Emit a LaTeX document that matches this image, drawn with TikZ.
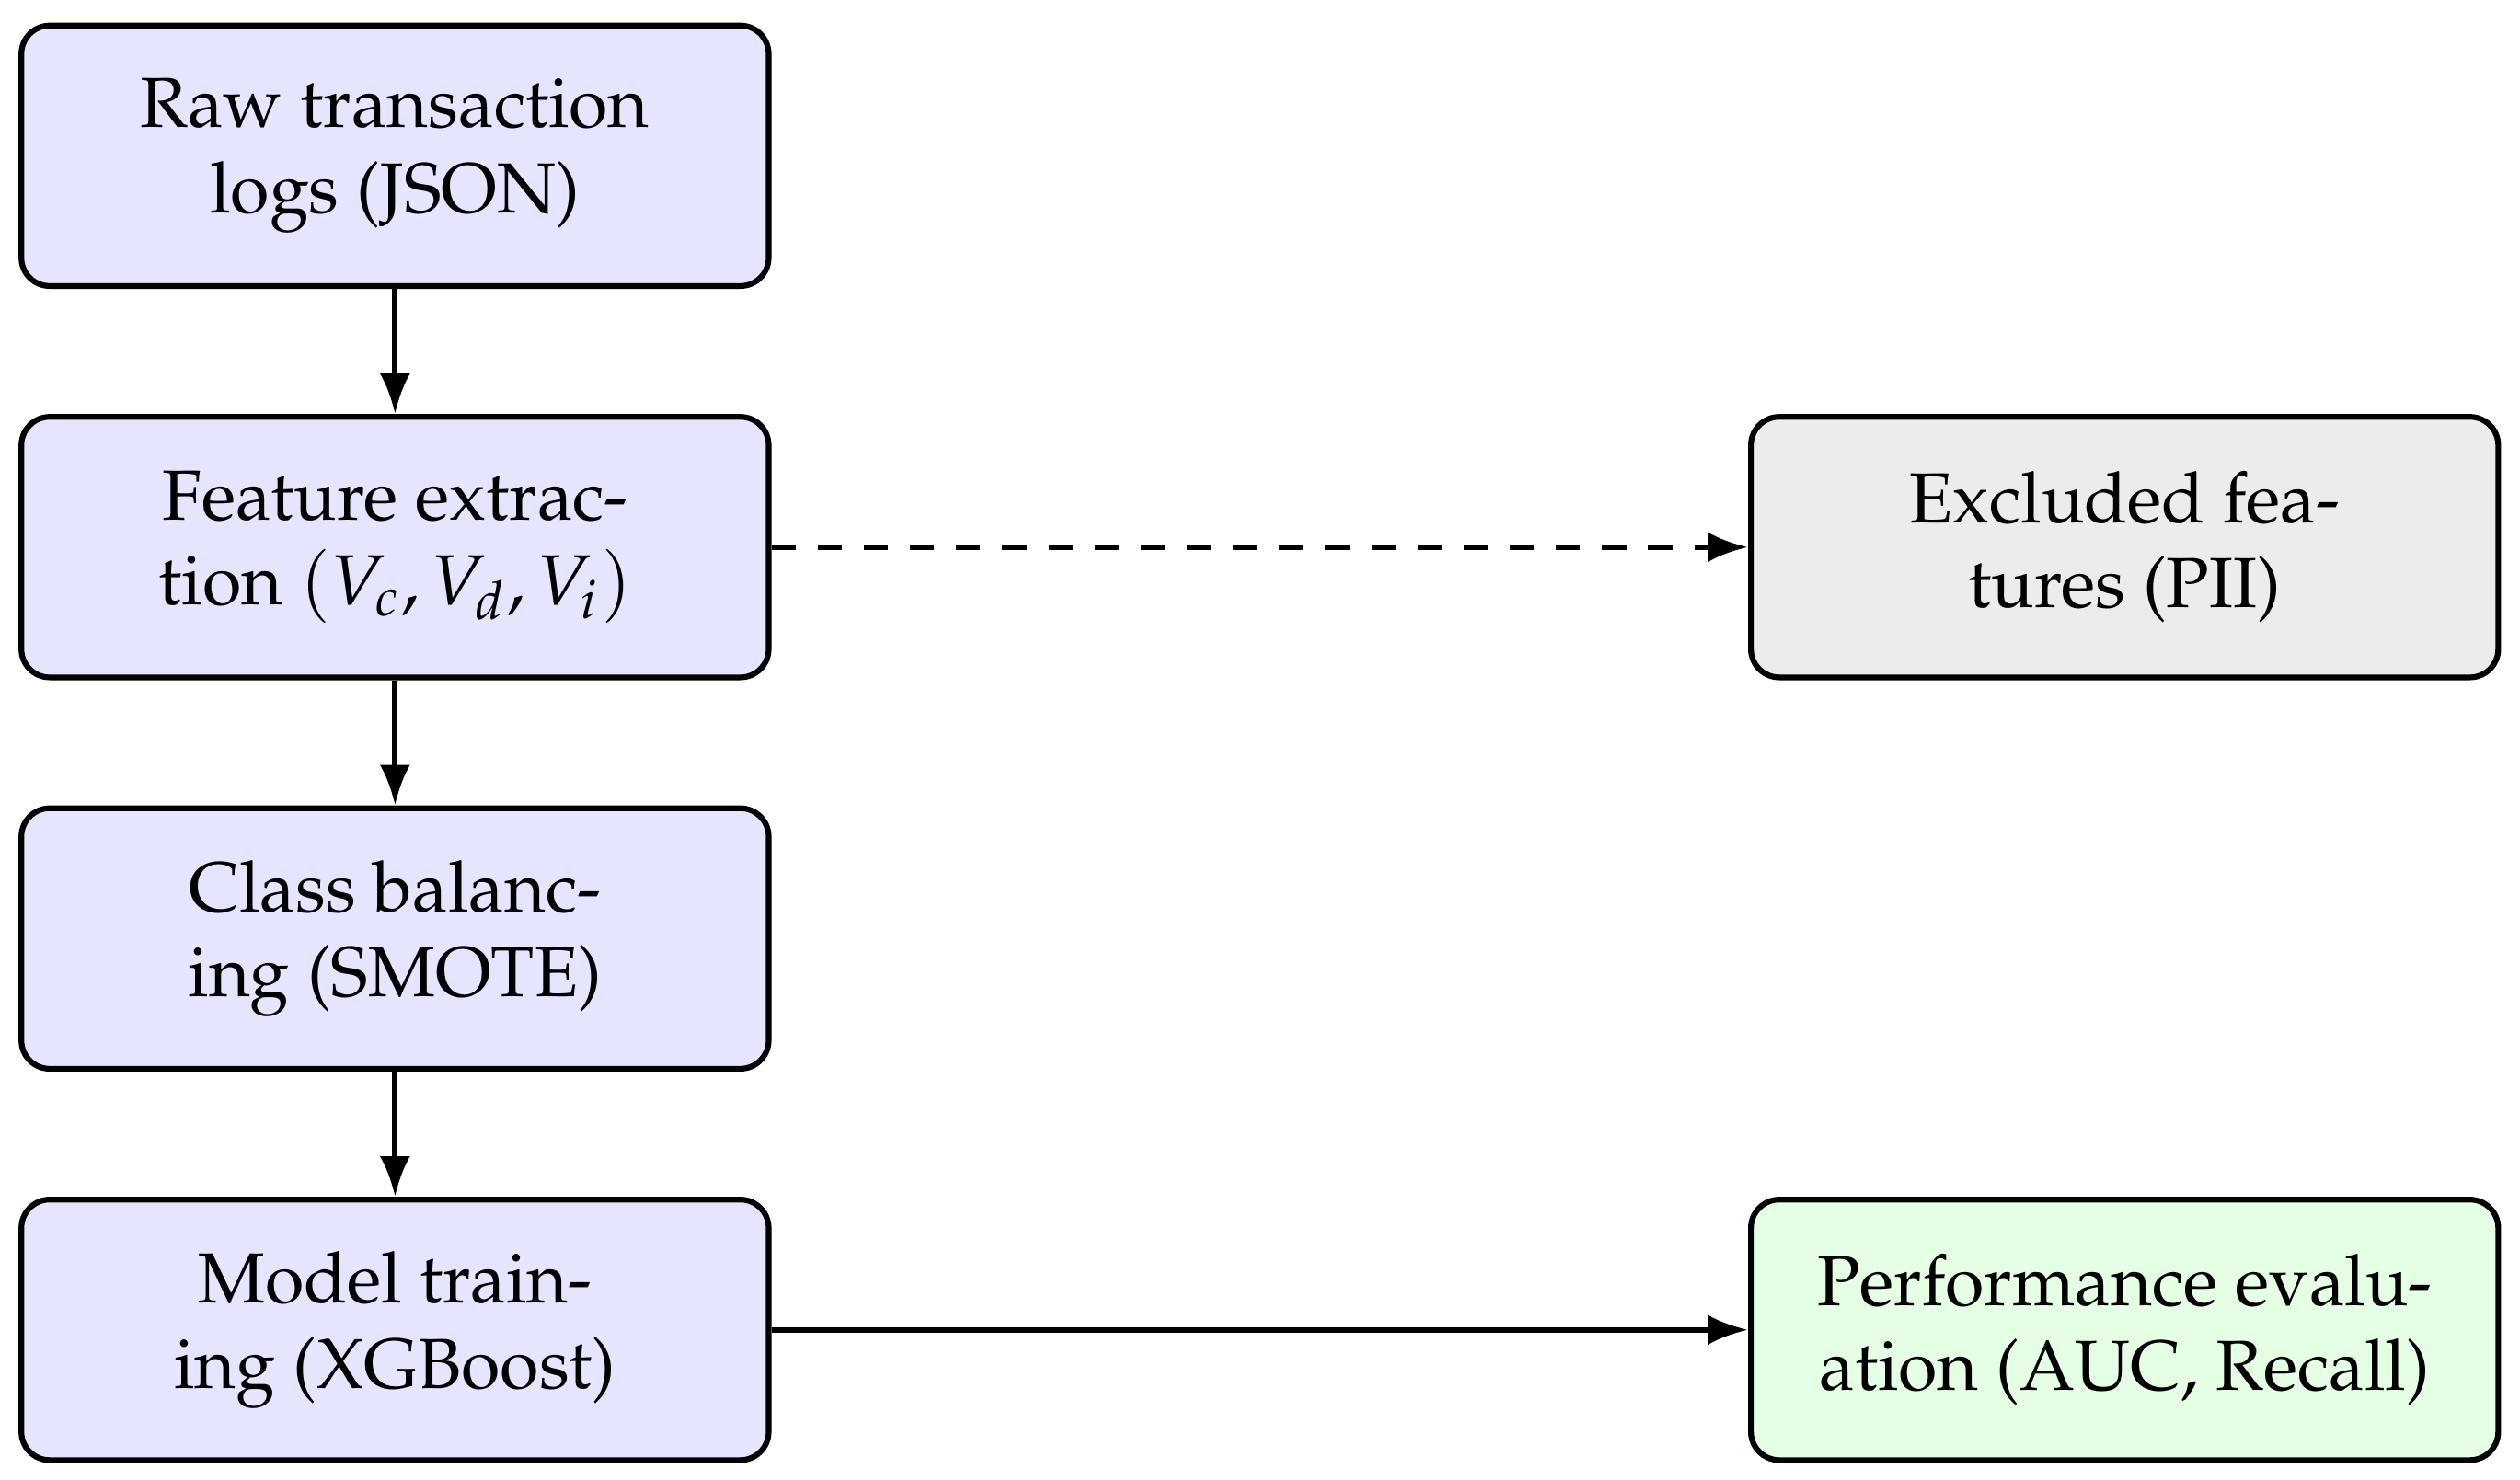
\documentclass[tikz,border=0pt]{standalone}
\usepackage[T1]{fontenc}
\usepackage{mathpazo}
\usepackage{tikz}
\usetikzlibrary{arrows.meta,positioning}

\begin{document}
\begin{tikzpicture}[
    node distance=0.62cm and 4.835cm,
    stage/.style={draw=black, thick, rounded corners=4pt, fill=blue!10,
        align=center, minimum width=3.7cm, minimum height=1.29cm},
    excluded/.style={stage, fill=gray!15},
    result/.style={stage, fill=green!10},
    flow/.style={-{Latex[length=2mm]}, thick},
    drop/.style={flow, dash pattern=on 3.4pt off 3.1pt}
]
    \useasboundingbox (-55.65pt,-186.55pt) rectangle (299.35pt,21.95pt);

    % Main pipeline
    \node[stage] (raw) at (0,0) {Raw transaction\\logs (JSON)};
    \node[stage, below=of raw] (feat) {Feature extrac-\\tion $(V_c, V_d, V_i)$};
    \node[stage, below=of feat] (smote) {Class balanc-\\ing (SMOTE)};
    \node[stage, below=of smote] (train) {Model train-\\ing (XGBoost)};

    % Side outputs
    \node[excluded, right=of feat] (pii) {Excluded fea-\\tures (PII)};
    \node[result, right=of train] (eval) {Performance evalu-\\ation (AUC, Recall)};

    \draw[flow] (raw) -- (feat);
    \draw[flow] (feat) -- (smote);
    \draw[flow] (smote) -- (train);
    \draw[drop] (feat) -- (pii);
    \draw[flow] (train) -- (eval);
\end{tikzpicture}
\end{document}
